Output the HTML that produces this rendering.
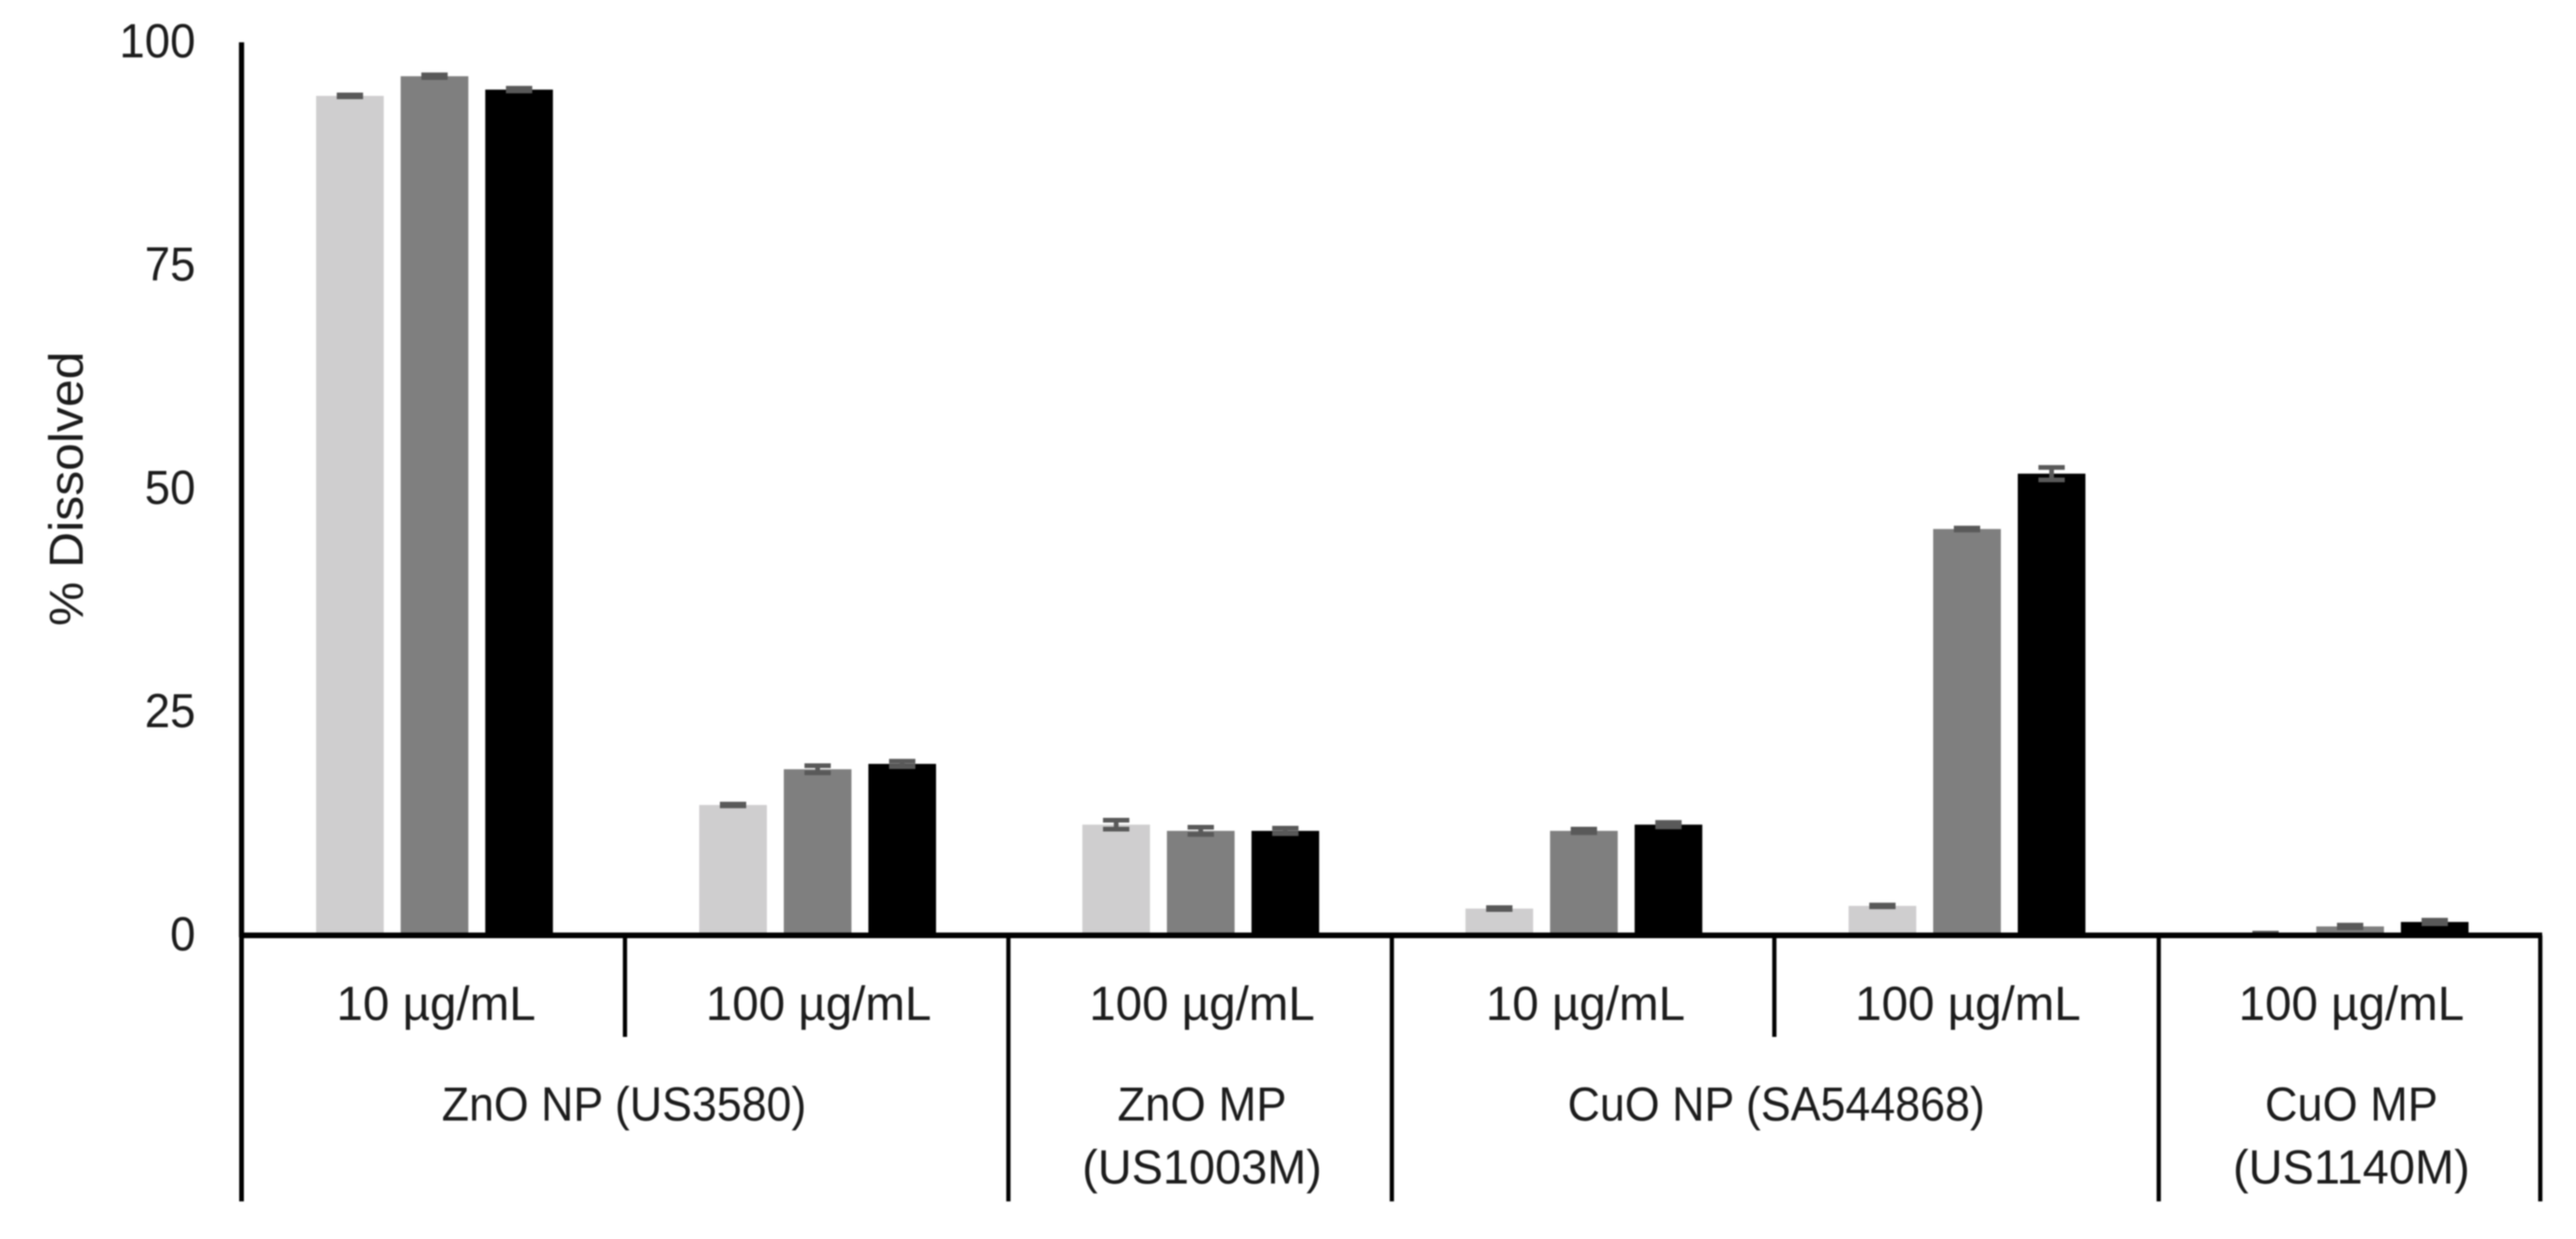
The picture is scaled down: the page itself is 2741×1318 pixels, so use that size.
<!DOCTYPE html>
<html lang="en">
<head>
<meta charset="utf-8">
<title>% Dissolved bar chart</title>
<style>
html,body{margin:0;padding:0;background:#fff;width:2741px;height:1318px;overflow:hidden}
svg{display:block;filter:blur(.8px)}
text{font-family:"Liberation Sans",sans-serif;font-size:51px;fill:#1c1c1c}
</style>
</head>
<body>
<svg id="chart" xmlns="http://www.w3.org/2000/svg" width="2741" height="1318" viewBox="0 0 2741 1318">
  <rect x="0" y="0" width="2741" height="1318" fill="#fff"/>
  <g id="bars"></g>
  <g id="errors"></g>
  <g id="axes" stroke="#000" fill="none">
    <line x1="257" y1="45" x2="257" y2="997" stroke-width="5.5"/>
    <line x1="255" y1="995" x2="2705" y2="995" stroke-width="6"/>
    <line x1="257" y1="995" x2="257" y2="1278" stroke-width="5"/>
    <line x1="665" y1="995" x2="665" y2="1103" stroke-width="4.5"/>
    <line x1="1073" y1="995" x2="1073" y2="1278" stroke-width="4.5"/>
    <line x1="1481" y1="995" x2="1481" y2="1278" stroke-width="4.5"/>
    <line x1="1888" y1="995" x2="1888" y2="1103" stroke-width="4.5"/>
    <line x1="2297" y1="995" x2="2297" y2="1278" stroke-width="4.5"/>
    <line x1="2703" y1="995" x2="2703" y2="1278" stroke-width="4.5"/>
  </g>
  <g id="y-ticks"></g>
  <text transform="translate(88,520) rotate(-90)" text-anchor="middle" textLength="292" lengthAdjust="spacingAndGlyphs">% Dissolved</text>
  <g text-anchor="middle">
    <text x="464" y="1085" textLength="212" lengthAdjust="spacingAndGlyphs">10 µg/mL</text>
    <text x="871" y="1085" textLength="240" lengthAdjust="spacingAndGlyphs">100 µg/mL</text>
    <text x="1279" y="1085" textLength="240" lengthAdjust="spacingAndGlyphs">100 µg/mL</text>
    <text x="1687" y="1085" textLength="212" lengthAdjust="spacingAndGlyphs">10 µg/mL</text>
    <text x="2094" y="1085" textLength="240" lengthAdjust="spacingAndGlyphs">100 µg/mL</text>
    <text x="2502" y="1085" textLength="240" lengthAdjust="spacingAndGlyphs">100 µg/mL</text>
  </g>
  <g text-anchor="middle">
    <text x="664" y="1192" textLength="388" lengthAdjust="spacingAndGlyphs">ZnO NP (US3580)</text>
    <text x="1279" y="1192" textLength="180" lengthAdjust="spacingAndGlyphs">ZnO MP</text>
    <text x="1279" y="1259" textLength="255" lengthAdjust="spacingAndGlyphs">(US1003M)</text>
    <text x="1890" y="1192" textLength="444" lengthAdjust="spacingAndGlyphs">CuO NP (SA544868)</text>
    <text x="2502" y="1192" textLength="184" lengthAdjust="spacingAndGlyphs">CuO MP</text>
    <text x="2502" y="1259" textLength="252" lengthAdjust="spacingAndGlyphs">(US1140M)</text>
  </g>
</svg>
<script>
const categories = ["ZnO NP 10", "ZnO NP 100", "ZnO MP 100", "CuO NP 10", "CuO NP 100", "CuO MP 100"];
const seriesLight = [94.0, 14.6, 12.4, 3.0, 3.3, 0.2];
const seriesMedium = [96.2, 18.6, 11.7, 11.7, 45.5, 1.0];
const seriesDark = [94.7, 19.2, 11.7, 12.4, 51.7, 1.5];
const errorLight = [0.1, 0.1, 0.5, 0.1, 0.1, 0.05];
const errorMedium = [0.15, 0.4, 0.4, 0.2, 0.1, 0.15];
const errorDark = [0.15, 0.3, 0.3, 0.25, 0.7, 0.2];
const yTickLabels = [0, 25, 50, 75, 100];

const SVG_NS = "http://www.w3.org/2000/svg";
const allSeries = [
  { key: "light", values: seriesLight, errors: errorLight, color: "#cfcecf" },
  { key: "medium", values: seriesMedium, errors: errorMedium, color: "#7f7f7f" },
  { key: "dark", values: seriesDark, errors: errorDark, color: "#000000" }
];
const plot = { left: 257, right: 2703, top: 45, bottom: 995 };
const barWidth = 72, barStep = 90, barOffset = 1.5, capWidth = 28;

function yScale(v) {
  return plot.bottom - (v / 100) * (plot.bottom - plot.top);
}
function categoryCenter(i) {
  return plot.left + (i + 0.5) * (plot.right - plot.left) / categories.length;
}
function make(tag, attrs) {
  const el = document.createElementNS(SVG_NS, tag);
  Object.keys(attrs).forEach(function (k) { el.setAttribute(k, attrs[k]); });
  return el;
}

const barsGroup = document.getElementById("bars");
const errorsGroup = document.getElementById("errors");
allSeries.forEach(function (s, si) {
  s.values.forEach(function (v, i) {
    const cx = categoryCenter(i) + (si - 1) * barStep + barOffset;
    const y = yScale(v);
    const bar = make("rect", { x: cx - barWidth / 2, y: y, width: barWidth, height: plot.bottom - y, fill: s.color });
    
    
    barsGroup.appendChild(bar);

    const hi = yScale(v + s.errors[i]);
    const lo = yScale(v - s.errors[i]);
    const err = make("path", {
      d: "M" + (cx - capWidth / 2) + " " + hi + "H" + (cx + capWidth / 2) +
         "M" + (cx - capWidth / 2) + " " + lo + "H" + (cx + capWidth / 2) +
         "M" + cx + " " + hi + "V" + lo,
      stroke: "#595959", "stroke-width": 5, fill: "none"
    });
    
    
    errorsGroup.appendChild(err);
  });
});

const tickGroup = document.getElementById("y-ticks");
yTickLabels.forEach(function (t) {
  const label = make("text", {
    x: 208, y: yScale(t) + 16, "text-anchor": "end",
    textLength: String(t).length * 27, lengthAdjust: "spacingAndGlyphs"
  });
  label.textContent = String(t);
  
  
  tickGroup.appendChild(label);
});
</script>
</body>
</html>
